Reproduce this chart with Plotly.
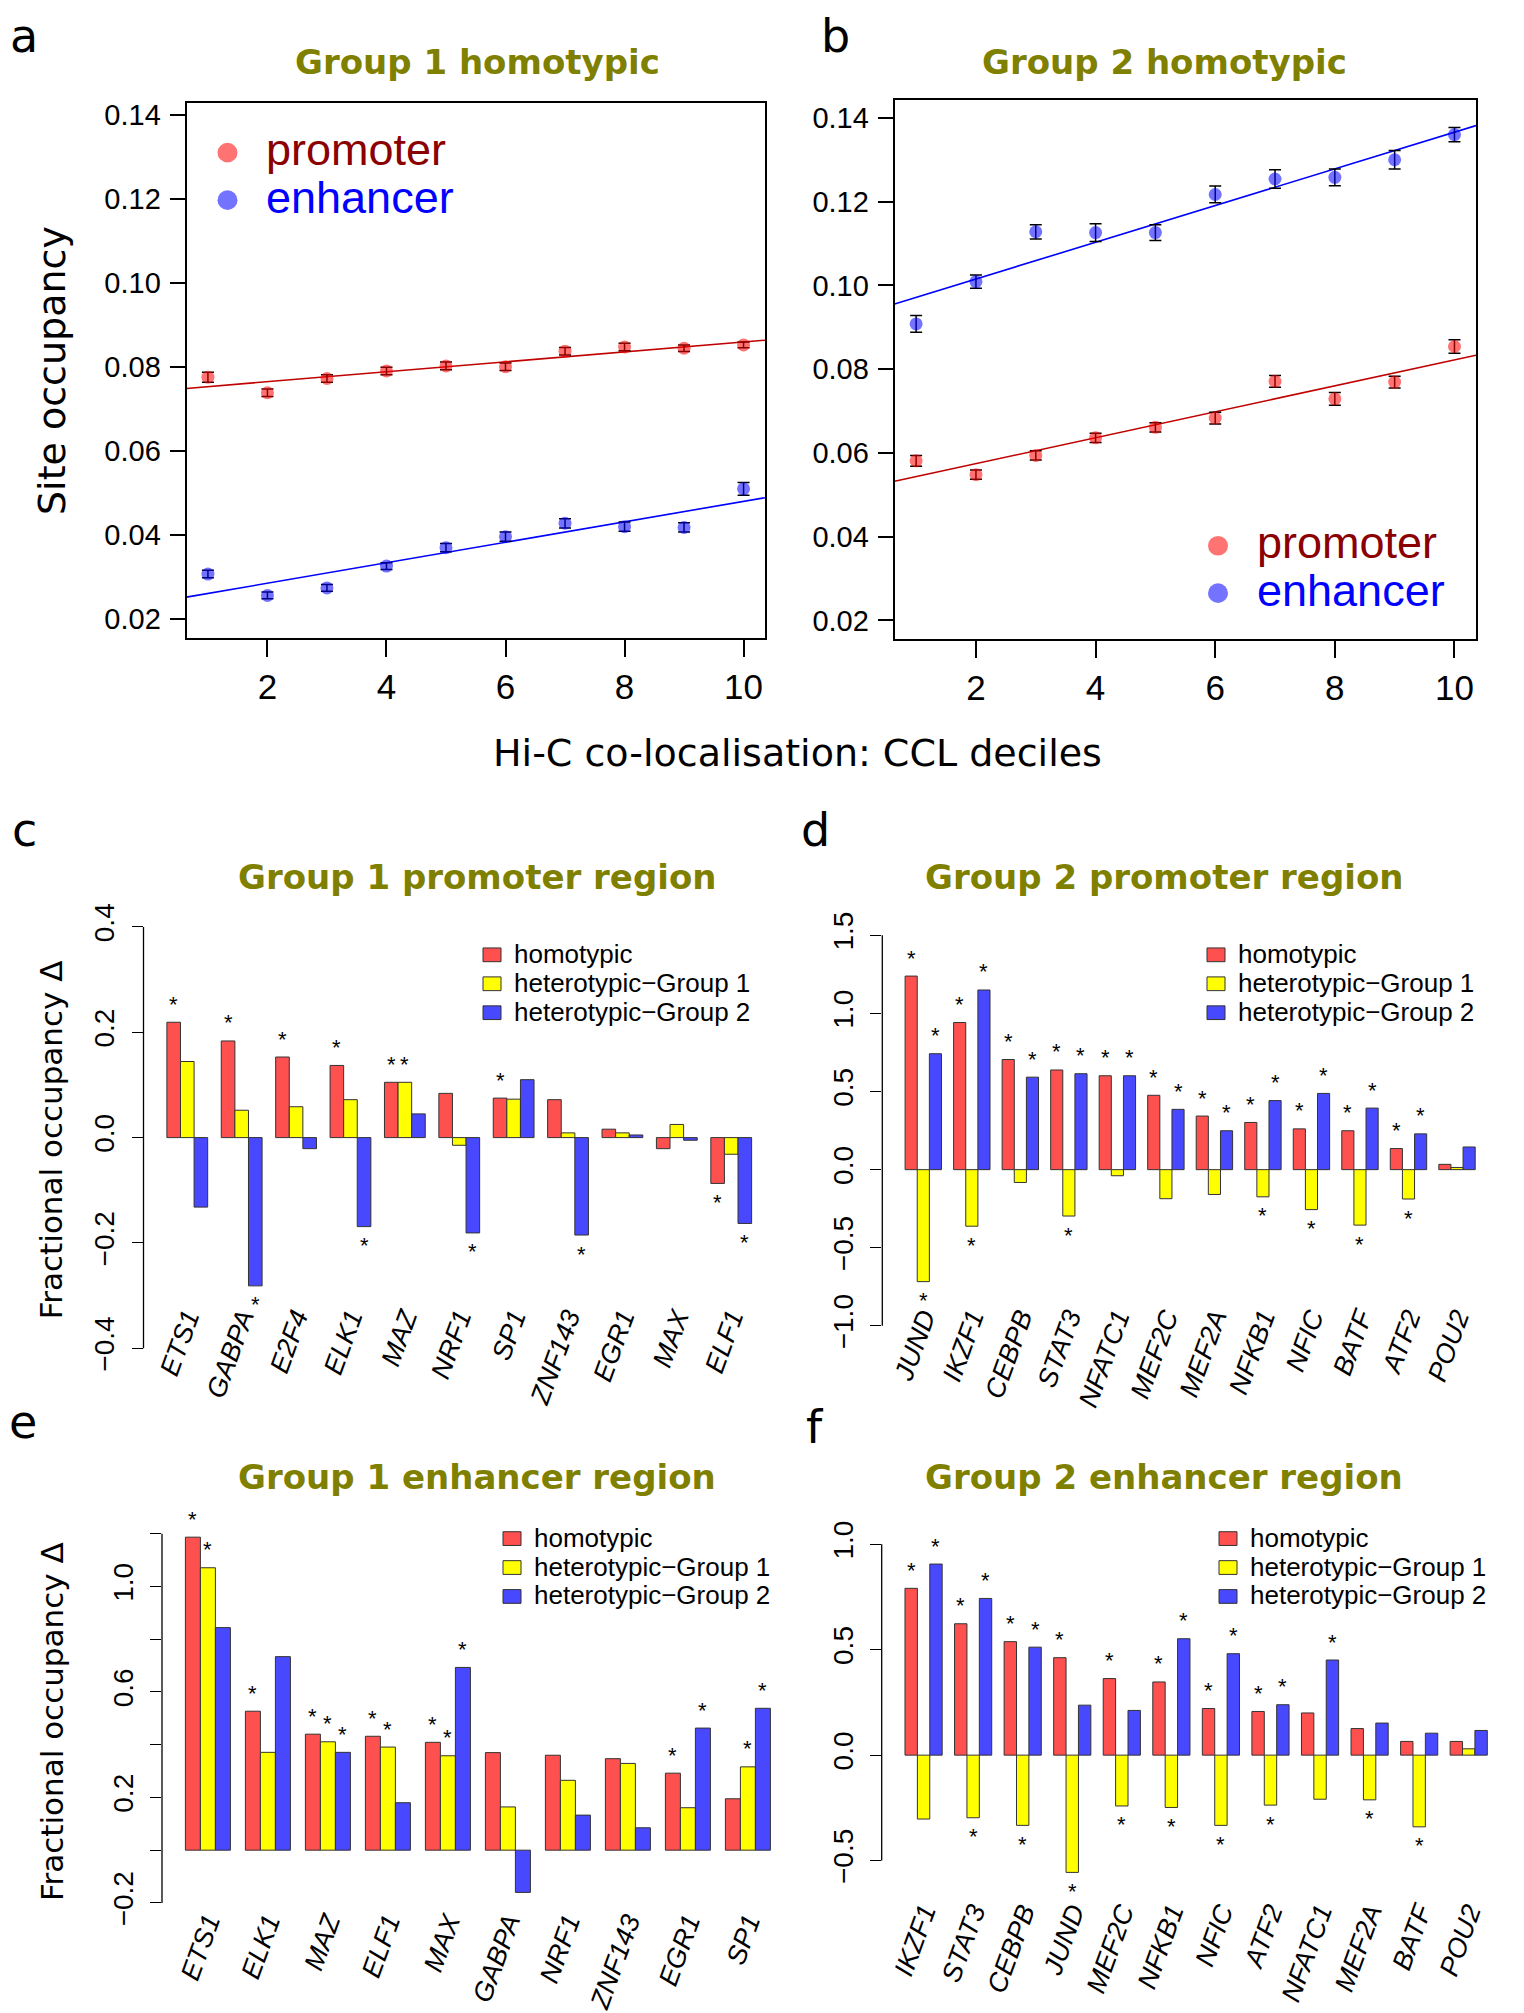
import numpy as np
import plotly.graph_objects as go

W, H = 1524, 2013
SANS = "Liberation Sans, Arial, Helvetica, sans-serif"
DEJA = "DejaVu Sans, Verdana, sans-serif"

# ---------------- data: panels a & b (site occupancy vs CCL decile) ----------------
deciles = [1, 2, 3, 4, 5, 6, 7, 8, 9, 10]
g1_promoter = [0.0776, 0.0739, 0.0773, 0.0791, 0.0803, 0.0801, 0.0838, 0.0848, 0.0845, 0.0853]
g1_promoter_err = [0.0012, 0.0009, 0.0009, 0.0009, 0.0009, 0.0009, 0.0009, 0.0009, 0.0008, 0.0007]
g1_enhancer = [0.0307, 0.0256, 0.0274, 0.0326, 0.0370, 0.0396, 0.0428, 0.0420, 0.0418, 0.0510]
g1_enhancer_err = [0.0009, 0.0008, 0.0008, 0.0008, 0.0010, 0.0011, 0.0011, 0.0011, 0.0011, 0.0015]
g2_promoter = [0.0581, 0.0548, 0.0594, 0.0636, 0.0661, 0.0683, 0.0771, 0.0729, 0.0769, 0.0854]
g2_promoter_err = [0.0013, 0.0011, 0.0011, 0.0011, 0.0011, 0.0014, 0.0014, 0.0015, 0.0014, 0.0016]
g2_enhancer = [0.0908, 0.1009, 0.1128, 0.1126, 0.1126, 0.1217, 0.1254, 0.1258, 0.1300, 0.1360]
g2_enhancer_err = [0.0020, 0.0016, 0.0017, 0.0021, 0.0019, 0.0020, 0.0022, 0.0020, 0.0022, 0.0017]
decile_ticks = [2, 4, 6, 8, 10]
occupancy_ticks = [0.02, 0.04, 0.06, 0.08, 0.10, 0.12, 0.14]

# ---------------- data: bar panels (fractional occupancy delta) ----------------
series_names = ["homotypic", "heterotypic\u2212Group 1", "heterotypic\u2212Group 2"]

c_tf = ["ETS1", "GABPA", "E2F4", "ELK1", "MAZ", "NRF1", "SP1", "ZNF143", "EGR1", "MAX", "ELF1"]
c_homo = [0.219, 0.1835, 0.153, 0.137, 0.105, 0.084, 0.075, 0.072, 0.016, -0.021, -0.087]
c_het1 = [0.1445, 0.052, 0.0586, 0.072, 0.105, -0.0146, 0.073, 0.009, 0.009, 0.025, -0.0316]
c_het2 = [-0.132, -0.2815, -0.021, -0.169, 0.045, -0.181, 0.110, -0.185, 0.005, -0.005, -0.163]
c_sig_homo = [1, 1, 1, 1, 1, 0, 1, 0, 0, 0, 1]
c_sig_het1 = [0, 0, 0, 0, 1, 0, 0, 0, 0, 0, 0]
c_sig_het2 = [0, 1, 0, 1, 0, 1, 0, 1, 0, 0, 1]
c_ticks = [-0.4, -0.2, 0.0, 0.2, 0.4]
c_ticktext = ["\u22120.4", "\u22120.2", "0.0", "0.2", "0.4"]

d_tf = ["JUND", "IKZF1", "CEBPB", "STAT3", "NFATC1", "MEF2C", "MEF2A", "NFKB1", "NFIC", "BATF", "ATF2", "POU2"]
d_homo = [1.239, 0.942, 0.705, 0.638, 0.601, 0.476, 0.343, 0.302, 0.261, 0.249, 0.135, 0.034]
d_het1 = [-0.717, -0.362, -0.082, -0.297, -0.039, -0.186, -0.159, -0.174, -0.256, -0.355, -0.188, 0.014]
d_het2 = [0.742, 1.150, 0.592, 0.614, 0.601, 0.386, 0.249, 0.442, 0.488, 0.394, 0.229, 0.145]
d_sig_homo = [1, 1, 1, 1, 1, 1, 1, 1, 1, 1, 1, 0]
d_sig_het1 = [1, 1, 0, 1, 0, 0, 0, 1, 1, 1, 1, 0]
d_sig_het2 = [1, 1, 1, 1, 1, 1, 1, 1, 1, 1, 1, 0]
d_ticks = [-1.0, -0.5, 0.0, 0.5, 1.0, 1.5]
d_ticktext = ["\u22121.0", "\u22120.5", "0.0", "0.5", "1.0", "1.5"]

e_tf = ["ETS1", "ELK1", "MAZ", "ELF1", "MAX", "GABPA", "NRF1", "ZNF143", "EGR1", "SP1"]
e_homo = [1.187, 0.527, 0.440, 0.432, 0.409, 0.370, 0.360, 0.347, 0.292, 0.195]
e_het1 = [1.071, 0.371, 0.411, 0.391, 0.358, 0.164, 0.265, 0.329, 0.161, 0.316]
e_het2 = [0.844, 0.734, 0.371, 0.180, 0.693, -0.160, 0.133, 0.085, 0.463, 0.538]
e_sig_homo = [1, 1, 1, 1, 1, 0, 0, 0, 1, 0]
e_sig_het1 = [1, 0, 1, 1, 1, 0, 0, 0, 0, 1]
e_sig_het2 = [0, 0, 1, 0, 1, 0, 0, 0, 1, 1]
e_ticks = [-0.2, 0.0, 0.2, 0.4, 0.6, 0.8, 1.0, 1.2]
e_ticktext = ["\u22120.2", "", "0.2", "", "0.6", "", "1.0", ""]

f_tf = ["IKZF1", "STAT3", "CEBPB", "JUND", "MEF2C", "NFKB1", "NFIC", "ATF2", "NFATC1", "MEF2A", "BATF", "POU2"]
f_homo = [0.791, 0.623, 0.538, 0.462, 0.363, 0.347, 0.221, 0.207, 0.200, 0.126, 0.065, 0.065]
f_het1 = [-0.303, -0.297, -0.333, -0.556, -0.241, -0.248, -0.333, -0.237, -0.209, -0.212, -0.340, 0.030]
f_het2 = [0.906, 0.743, 0.512, 0.237, 0.212, 0.552, 0.481, 0.239, 0.451, 0.152, 0.104, 0.117]
f_sig_homo = [1, 1, 1, 1, 1, 1, 1, 1, 0, 0, 0, 0]
f_sig_het1 = [0, 1, 1, 1, 1, 1, 1, 1, 0, 1, 1, 0]
f_sig_het2 = [1, 1, 1, 0, 0, 1, 1, 1, 1, 0, 0, 0]
f_ticks = [-0.5, 0.0, 0.5, 1.0]
f_ticktext = ["\u22120.5", "0.0", "0.5", "1.0"]

# ---------------- styles ----------------
BAR_COLORS = ["#FF5050", "#FFFF00", "#4848FF"]
PT_RED = "rgba(255,0,0,0.55)"
PT_BLUE = "rgba(0,0,255,0.55)"
OLIVE = "#808000"


def fx(px):
    return px / W


def fy(py):
    return 1 - py / H


fig = go.Figure()
layout = dict(width=W, height=H, margin=dict(l=0, r=0, t=0, b=0),
              paper_bgcolor="white", plot_bgcolor="white", showlegend=False,
              barmode="overlay")
annotations = []
shapes = []


def axname(k):
    return ("x", "y") if k == 1 else (f"x{k}", f"y{k}")


def lkey(k):
    return ("xaxis", "yaxis") if k == 1 else (f"xaxis{k}", f"yaxis{k}")


def scatter_panel(k, prom, prom_err, enh, enh_err, xdom, ydom, yrange):
    xa, ya = axname(k)
    kx, ky = lkey(k)
    lo, hi = min(deciles), max(deciles)
    ext = 0.04 * (hi - lo)
    xr = [lo - ext, hi + ext]
    for vals, err, col, lc in ((prom, prom_err, PT_RED, "#C00000"),
                               (enh, enh_err, PT_BLUE, "#0000FF")):
        coef = np.polyfit(deciles, vals, 1)
        xl = np.array(xr)
        fig.add_trace(go.Scatter(x=xl, y=np.polyval(coef, xl), mode="lines",
                                 line=dict(color=lc, width=1.6), xaxis=xa, yaxis=ya,
                                 hoverinfo="skip"))
        fig.add_trace(go.Scatter(x=deciles, y=vals, mode="markers",
                                 marker=dict(size=13, color=col, line=dict(width=0)),
                                 error_y=dict(type="data", array=err, color="black",
                                              thickness=1.5, width=6),
                                 xaxis=xa, yaxis=ya))
    layout[kx] = dict(domain=[fx(xdom[0]), fx(xdom[1])], range=xr, anchor=ya,
                      tickvals=decile_ticks, ticks="outside", ticklen=17, tickwidth=1.5,
                      tickcolor="black", showline=True, mirror=True, linecolor="black",
                      linewidth=1.8, showgrid=False, zeroline=False,
                      tickfont=dict(family=SANS, size=35, color="black"),
                      ticklabelstandoff=0)
    layout[ky] = dict(domain=[fy(ydom[1]), fy(ydom[0])], range=yrange, anchor=xa,
                      tickvals=occupancy_ticks, tickformat=".2f", ticks="outside",
                      ticklen=15, tickwidth=1.5, tickcolor="black", showline=True,
                      mirror=True, linecolor="black", linewidth=1.8, showgrid=False,
                      zeroline=False, tickfont=dict(family=SANS, size=29, color="black"),
                      ticklabelstandoff=3)


def scatter_legend(cx, cys, tx):
    for (nm, pc, tc), cy in zip((("promoter", PT_RED, "#8B0000"),
                                 ("enhancer", PT_BLUE, "#0000FF")), cys):
        shapes.append(dict(type="circle", xref="paper", yref="paper",
                           x0=fx(cx - 10), x1=fx(cx + 10), y0=fy(cy + 10), y1=fy(cy - 10),
                           fillcolor=pc, line=dict(width=0)))
        annotations.append(dict(xref="paper", yref="paper", x=fx(tx), y=fy(cy - 3),
                                text=nm, xanchor="left", yanchor="middle", showarrow=False,
                                font=dict(family=SANS, size=45, color=tc)))


def bar_panel(k, names, series, sigs, xdom, ydom, yrange, ticks, ticktext, label_py):
    xa, ya = axname(k)
    kx, ky = lkey(k)
    ng = len(names)
    for j, (vals, sig) in enumerate(zip(series, sigs)):
        xs = [g * 4 + j + 1.5 for g in range(ng)]
        fig.add_trace(go.Bar(x=xs, y=vals, width=1,
                             marker=dict(color=BAR_COLORS[j], line=dict(color="#333333", width=1)),
                             xaxis=xa, yaxis=ya))
        for g in range(ng):
            if sig[g]:
                v = vals[g]
                annotations.append(dict(x=xs[g], y=v, xref=xa, yref=ya, text="*",
                                        showarrow=False, xanchor="center", yanchor="middle",
                                        yshift=18 if v >= 0 else -19,
                                        font=dict(family=SANS, size=22, color="black")))
    lo, hi = 1, ng * 4
    ext = 0.04 * (hi - lo)
    layout[kx] = dict(domain=[fx(xdom[0]), fx(xdom[1])], range=[lo - ext, hi + ext],
                      anchor="free", position=fy(label_py),
                      tickvals=[g * 4 + 2.5 for g in range(ng)], ticktext=names,
                      tickangle=-70, ticks="", showline=False, showgrid=False,
                      zeroline=False,
                      tickfont=dict(family=SANS, size=27, color="black", style="italic"))
    layout[ky] = dict(domain=[fy(ydom[1]), fy(ydom[0])], range=yrange, anchor=xa,
                      tickvals=ticks, ticktext=ticktext, ticks="outside", ticklen=11,
                      tickwidth=1.3, tickcolor="black", showline=False, showgrid=False,
                      zeroline=False, tickangle=-90,
                      tickfont=dict(family=SANS, size=28, color="black"),
                      ticklabelstandoff=6)
    shapes.append(dict(type="line", xref=f"{xa} domain", yref=ya, x0=0, x1=0,
                       y0=min(ticks), y1=max(ticks), line=dict(color="black", width=1.3)))


def bar_legend(x0, ycs, tx):
    for col, nm, yc in zip(BAR_COLORS, series_names, ycs):
        shapes.append(dict(type="rect", xref="paper", yref="paper",
                           x0=fx(x0), x1=fx(x0 + 18), y0=fy(yc + 7), y1=fy(yc - 7),
                           fillcolor=col, line=dict(color="#333333", width=1)))
        annotations.append(dict(xref="paper", yref="paper", x=fx(tx), y=fy(yc - 1),
                                text=nm, xanchor="left", yanchor="middle", showarrow=False,
                                font=dict(family=SANS, size=26, color="black")))


def text(px, py, s, size, family=DEJA, color="black", angle=0, weight="normal"):
    annotations.append(dict(xref="paper", yref="paper", x=fx(px), y=fy(py), text=s,
                            showarrow=False, xanchor="center", yanchor="middle",
                            textangle=angle,
                            font=dict(family=family, size=size, color=color, weight=weight)))


# ---------------- panels ----------------
scatter_panel(1, g1_promoter, g1_promoter_err, g1_enhancer, g1_enhancer_err,
              (186.5, 765), (94.5, 640.5), [0.01537, 0.1430])
scatter_panel(2, g2_promoter, g2_promoter_err, g2_enhancer, g2_enhancer_err,
              (894.6, 1476), (92, 641), [0.01558, 0.1442])
scatter_legend(227.5, (145.4, 193.8), 264)
scatter_legend(1218, (546, 594.4), 1254.5)

bar_panel(3, c_tf, (c_homo, c_het1, c_het2), (c_sig_homo, c_sig_het1, c_sig_het2),
          (143.5, 775), (917.4, 1381.2), [-0.432, 0.432], c_ticks, c_ticktext, 1310)
bar_panel(4, d_tf, (d_homo, d_het1, d_het2), (d_sig_homo, d_sig_het1, d_sig_het2),
          (882.3, 1498), (927.2, 1357.1), [-1.1, 1.6], d_ticks, d_ticktext, 1310)
bar_panel(5, e_tf, (e_homo, e_het1, e_het2), (e_sig_homo, e_sig_het1, e_sig_het2),
          (162, 793.8), (1538, 1944.4), [-0.256, 1.256], e_ticks, e_ticktext, 1926)
bar_panel(6, f_tf, (f_homo, f_het1, f_het2), (f_sig_homo, f_sig_het1, f_sig_het2),
          (881.7, 1510.6), (1550, 1915), [-0.634, 1.064], f_ticks, f_ticktext, 1916)

bar_legend(483, (963, 992.5, 1022), 512)
bar_legend(1207, (963, 992.5, 1022), 1236)
bar_legend(503, (1558, 1587.5, 1617), 532)
bar_legend(1219, (1558, 1587.5, 1617), 1248)

# ---------------- titles & labels ----------------
text(477, 53, "Group 1 homotypic", 34, color=OLIVE, weight="bold")
text(1164, 53, "Group 2 homotypic", 34, color=OLIVE, weight="bold")
text(477, 883.5, "Group 1 promoter region", 34, color=OLIVE, weight="bold")
text(1164, 883.5, "Group 2 promoter region", 34, color=OLIVE, weight="bold")
text(477, 1495, "Group 1 enhancer region", 34, color=OLIVE, weight="bold")
text(1164, 1495, "Group 2 enhancer region", 34, color=OLIVE, weight="bold")

text(797, 757, "Hi-C co-localisation: CCL deciles", 38)
text(52, 368, "Site occupancy", 38, angle=-90)
text(51, 1152, "Fractional occupancy \u0394", 31, angle=-90)
text(52, 1745, "Fractional occupancy \u0394", 31, angle=-90)

text(24, 26, "a", 46)
text(836, 27, "b", 46)
text(24, 836, "c", 46)
text(815, 836, "d", 46)
text(23, 1439, "e", 46)
text(815, 1444, "f", 46)

layout["annotations"] = annotations
layout["shapes"] = shapes
fig.update_layout(**layout)
fig.write_html("out.html",
               config={"displayModeBar": False},
               post_script="document.body.style.margin='0px';"
                           "document.body.style.padding='0px';"
                           "document.documentElement.style.overflow='hidden';")
